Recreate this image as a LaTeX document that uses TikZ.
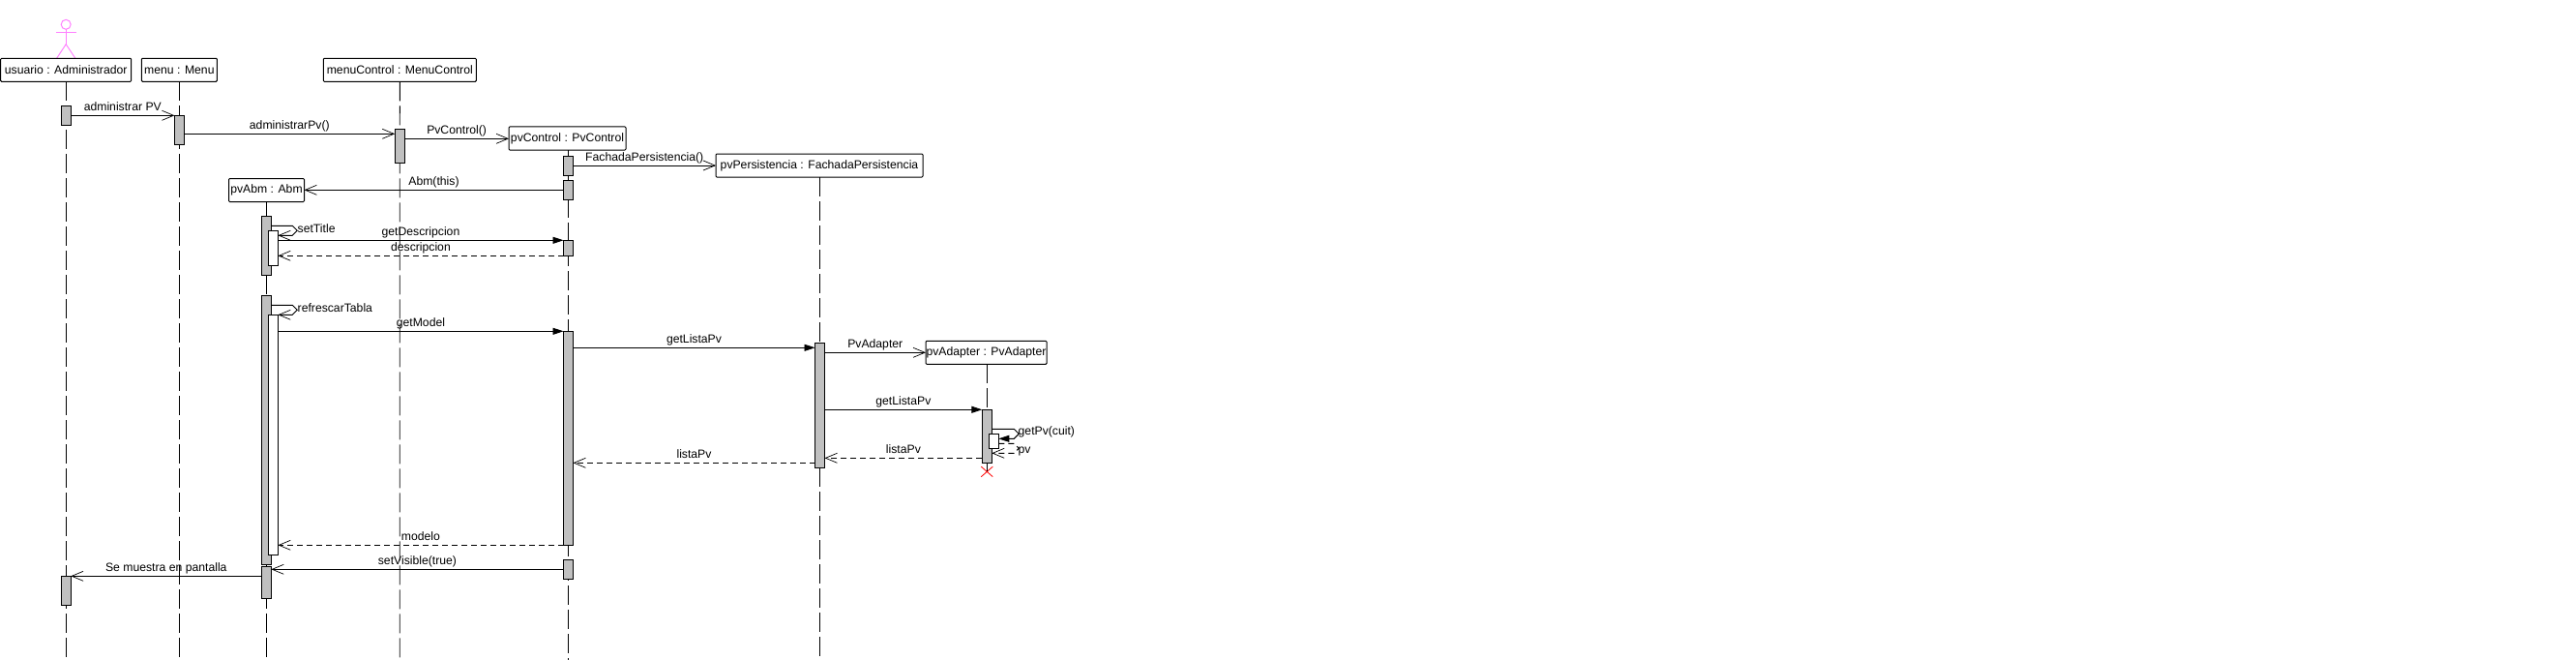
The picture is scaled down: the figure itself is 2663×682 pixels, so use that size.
\documentclass[tikz,border=0pt]{standalone}
\usepackage{fontspec}
\setmainfont{Liberation Sans}
\usetikzlibrary{arrows.meta,shapes.misc}
\definecolor{barGray}{RGB}{192,192,192}
\definecolor{actorPink}{RGB}{255,128,255}
\tikzset{
	object box/.style={draw,fill=white,rounded corners=1pt,inner sep=0,outer sep=0,minimum height=24pt,line width=1pt},
	life line/.style={line width=.9pt,dash pattern=on 20pt off 5pt},
	active bar/.style={draw,fill=barGray,inner sep=0,outer sep=0,minimum width=10pt,line width=1pt},
	inner bar/.style={active bar,fill=white},
	call msg/.style={line width=.9pt,-{Straight Barb[length=12pt,width=10pt,line width=.7pt]}},
	sync msg/.style={line width=.9pt,-{Triangle[length=11pt,width=7pt]}},
	return msg/.style={call msg,dash pattern=on 6pt off 4pt},
	msg label/.style={anchor=base,yshift=5pt,inner sep=0,outer sep=0},
	self label/.style={anchor=west,inner sep=0,outer sep=0},
	actor line/.style={draw=actorPink,line width=1pt}
}

\begin{document}
\begin{tikzpicture}[x=1pt,y=-1pt,font=\fontsize{12.2}{14}\selectfont]
		\useasboundingbox (0,0) rectangle (2663,682);
		\node[draw=actorPink,circle,inner sep=0,outer sep=0,minimum size=10pt,line width=1pt] (actorHead) at (68.2,25.3) {};
		\coordinate (actorHip) at (68.2,45.7);
		\coordinate (actorHandL) at (57.9,33.3);
		\coordinate (actorHandR) at (78.6,33.3);
		\coordinate (actorFootL) at (58.6,60.3);
		\coordinate (actorFootR) at (77.9,60.3);
		\draw[actor line] (actorHead.south) -- (actorHip);
		\draw[actor line] (actorHandL) -- (actorHandR);
		\draw[actor line] (actorFootL) -- (actorHip) -- (actorFootR);

		\node[object box,minimum width=135pt] (usuario) at (68.2,72.3) {usuario : Administrador};
		\node[object box,minimum width=78pt] (menu) at (185.4,72.3) {menu : Menu};
		\node[object box,minimum width=158pt] (menuControl) at (413.3,72.3) {menuControl : MenuControl};
		\node[object box,minimum width=121pt] (pvControl) at (586.5,143) {pvControl : PvControl};
		\node[object box,minimum width=214pt] (pvPersistencia) at (847,171) {pvPersistencia : FachadaPersistencia};
		\node[object box,minimum width=78pt] (pvAbm) at (275.5,196.5) {pvAbm : Abm};
		\node[object box,minimum width=125pt] (pvAdapter) at (1019.5,364.3) {pvAdapter : PvAdapter};
		\node[draw=red,cross out,inner sep=0,outer sep=0,minimum width=12pt,minimum height=10.5pt,line width=.8pt] (pvAdapterEnd) at (1020.3,487.4) {};

		\coordinate (usuarioEnd) at (68.2,682);
		\coordinate (menuEnd) at (185.4,682);
		\coordinate (menuControlEnd) at (413.2,682);
		\coordinate (pvControlEnd) at (587.5,682);
		\coordinate (pvPersistenciaEnd) at (847.5,682);
		\coordinate (pvAbmEnd) at (275.4,682);
		\draw[life line] (usuario.south) -- (usuarioEnd);
		\draw[life line] (menu.south) -- (menuEnd);
		\draw[life line] (menuControl.south) -- (menuControlEnd);
		\draw[life line] (pvControl.south -| pvControlEnd) -- (pvControlEnd);
		\draw[life line] (pvPersistencia.south -| pvPersistenciaEnd) -- (pvPersistenciaEnd);
		\draw[life line] (pvAbm.south -| pvAbmEnd) -- (pvAbmEnd);
		\draw[life line] (pvAdapter.south -| pvAdapterEnd) -- (pvAdapterEnd.center);

		\node[active bar,minimum height=20pt] (usuarioBarA) at (68.2,119.3) {};
		\node[active bar,minimum height=30pt] (usuarioBarB) at (68.2,610.3) {};
		\node[active bar,minimum height=30pt] (menuBar) at (185.4,134.3) {};
		\node[active bar,minimum height=35pt] (menuControlBar) at (413.2,150.8) {};
		\node[active bar,minimum height=20pt] (pvControlBarA) at (587.5,171.5) {};
		\node[active bar,minimum height=20pt] (pvControlBarB) at (587.5,196.5) {};
		\node[active bar,minimum height=16pt] (pvControlBarC) at (587.5,256.3) {};
		\node[active bar,minimum height=221pt] (pvControlBarD) at (587.5,452.8) {};
		\node[active bar,minimum height=20pt] (pvControlBarE) at (587.5,588.3) {};
		\node[active bar,minimum height=61pt] (pvAbmBarA) at (275.4,253.8) {};
		\node[inner bar,minimum height=36pt] (pvAbmInnerA) at (282.4,256.3) {};
		\node[active bar,minimum height=278pt] (pvAbmBarB) at (275.4,444.3) {};
		\node[inner bar,minimum height=248pt] (pvAbmInnerB) at (282.4,449.3) {};
		\node[active bar,minimum height=33pt] (pvAbmBarC) at (275.4,601.8) {};
		\node[active bar,minimum height=129pt] (pvPersistenciaBar) at (847.5,418.8) {};
		\node[active bar,minimum height=55pt] (pvAdapterBar) at (1020.3,450.8) {};
		\node[inner bar,minimum height=15pt] (pvAdapterInner) at (1027.3,455.8) {};

		\draw[call msg] (usuarioBarA.east |- 0,119.3) -- node[msg label]{administrar PV} (menuBar.west |- 0,119.3);
		\draw[call msg] (menuBar.east |- 0,138.3) -- node[msg label]{administrarPv()} (menuControlBar.west |- 0,138.3);
		\draw[call msg] (menuControlBar.east |- 0,143.3) -- node[msg label]{PvControl()} (pvControl.west |- 0,143.3);
		\draw[call msg] (pvControlBarA.east |- 0,171) -- node[msg label]{FachadaPersistencia()} (pvPersistencia.west |- 0,171);
		\draw[call msg] (pvControlBarB.west |- 0,196.3) -- node[msg label]{Abm(this)} (pvAbm.east |- 0,196.3);

		\draw[call msg] (pvAbmBarA.east |- 0,233.3) -- (302.3,233.3) -- (307.3,238.3) -- (302.3,243.3) -- (pvAbmInnerA.east |- 0,243.3);
		\node[self label] (setTitleLabel) at (307.7,236) {setTitle};
		\draw[sync msg] (pvAbmInnerA.east |- 0,248.3) -- node[msg label]{getDescripcion} (pvControlBarC.west |- 0,248.3);
		\draw[return msg] (pvControlBarC.west |- 0,264.3) -- node[msg label]{descripcion} (pvAbmInnerA.east |- 0,264.3);

		\draw[call msg] (pvAbmBarB.east |- 0,315.3) -- (302.3,315.3) -- (307.3,320.3) -- (302.3,325.3) -- (pvAbmInnerB.east |- 0,325.3);
		\node[self label] (refrescarLabel) at (307.7,317.7) {refrescarTabla};
		\draw[sync msg] (pvAbmInnerB.east |- 0,342.3) -- node[msg label]{getModel} (pvControlBarD.west |- 0,342.3);
		\draw[sync msg] (pvControlBarD.east |- 0,359.3) -- node[msg label]{getListaPv} (pvPersistenciaBar.west |- 0,359.3);
		\draw[call msg] (pvPersistenciaBar.east |- 0,364.3) -- node[msg label]{PvAdapter} (pvAdapter.west |- 0,364.3);
		\draw[sync msg] (pvPersistenciaBar.east |- 0,423.3) -- node[msg label]{getListaPv} (pvAdapterBar.west |- 0,423.3);

		\draw[sync msg] (pvAdapterBar.east |- 0,443.3) -- (1048.3,443.3) -- (1053.3,448.3) -- (1048.3,453.3) -- (pvAdapterInner.east |- 0,453.3);
		\node[self label] (getPvLabel) at (1052.7,446) {getPv(cuit)};
		\draw[return msg] (pvAdapterInner.east |- 0,458.3) -- (1048.3,458.3) -- (1053.3,463.3) -- (1048.3,468.3) -- (pvAdapterBar.east |- 0,468.3);
		\node[self label] (pvLabel) at (1052.7,466) {pv};

		\draw[return msg] (pvAdapterBar.west |- 0,473.3) -- node[msg label]{listaPv} (pvPersistenciaBar.east |- 0,473.3);
		\draw[return msg] (pvPersistenciaBar.west |- 0,478.3) -- node[msg label]{listaPv} (pvControlBarD.east |- 0,478.3);
		\draw[return msg] (pvControlBarD.west |- 0,563.3) -- node[msg label]{modelo} (pvAbmInnerB.east |- 0,563.3);
		\draw[call msg] (pvControlBarE.west |- 0,588.3) -- node[msg label]{setVisible(true)} (pvAbmBarC.east |- 0,588.3);
		\draw[call msg] (pvAbmBarC.west |- 0,595.3) -- node[msg label]{Se muestra en pantalla} (usuarioBarB.east |- 0,595.3);
\end{tikzpicture}
\end{document}
